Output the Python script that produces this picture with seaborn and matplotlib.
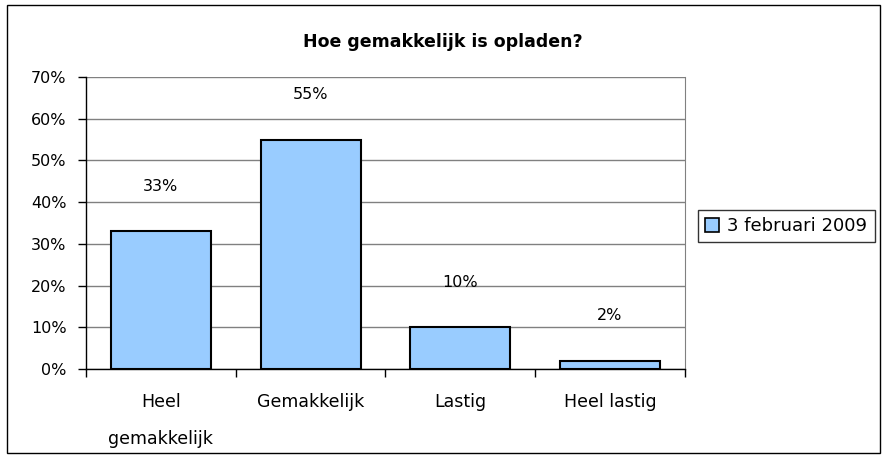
import matplotlib.pyplot as plt
import matplotlib.patches as mpatches
import pandas as pd
import seaborn as sns
from matplotlib.ticker import PercentFormatter

sns.set_style('white')
plt.rcParams['font.family'] = ['DejaVu Sans']
plt.rcParams['text.color'] = 'black'
plt.rcParams['xtick.color'] = 'black'
plt.rcParams['ytick.color'] = 'black'

categories = ['Heel\ngemakkelijk', 'Gemakkelijk', 'Lastig', 'Heel lastig']
values = [33, 55, 10, 2]
series_name = '3 februari 2009'
title = 'Hoe gemakkelijk is opladen?'

df = pd.DataFrame({'Categorie': categories, 'Percentage': values})

bar_color = '#99ccff'

fig = plt.figure(figsize=(8.82, 4.58), dpi=100)
ax = fig.add_axes([0.0975, 0.194, 0.679, 0.638])

sns.barplot(data=df, x='Categorie', y='Percentage', color=bar_color, saturation=1,
            edgecolor='black', linewidth=1.5, width=0.667, ax=ax, zorder=3)

ax.set_ylim(0, 70)
ax.set_yticks(range(0, 71, 10))
ax.yaxis.set_major_formatter(PercentFormatter(decimals=0))
ax.yaxis.grid(True, color='#808080', linewidth=1, zorder=0)
ax.set_xlim(-0.5, len(categories) - 0.5)

for spine in ['left', 'bottom']:
    ax.spines[spine].set_color('black')
    ax.spines[spine].set_linewidth(1)
ax.spines['right'].set_color('#808080')
ax.spines['top'].set_visible(False)

ax.tick_params(axis='y', left=True, length=6, width=1, color='black',
               labelsize=11.5, pad=8)
ax.tick_params(axis='x', bottom=False, labelsize=12.5, pad=14)
ax.set_xticks(range(len(categories)))
ax.set_xticklabels(categories, linespacing=2.3, va='top')
ax.set_xticks([i - 0.5 for i in range(len(categories) + 1)], minor=True)
ax.tick_params(axis='x', which='minor', bottom=True, length=6, width=1, color='black')

ax.set_xlabel('')
ax.set_ylabel('')

for container in ax.containers:
    for bar, v in zip(container, values):
        ax.annotate(f'{v}%', (bar.get_x() + bar.get_width() / 2, bar.get_height()),
                    xytext=(0, 27), textcoords='offset points',
                    ha='center', va='bottom', fontsize=11.5)

fig.text(0.502, 0.908, title, ha='center', va='center', fontsize=12.5, fontweight='bold')

handle = mpatches.Patch(facecolor=bar_color, edgecolor='black', linewidth=1.2, label=series_name)
leg = fig.legend(handles=[handle], loc='upper left', bbox_to_anchor=(0.791, 0.542),
                 fontsize=13, frameon=True, fancybox=False, borderpad=0.4,
                 handlelength=0.8, handleheight=0.8, handletextpad=0.45, borderaxespad=0)
leg.get_frame().set_edgecolor('black')
leg.get_frame().set_linewidth(1)

border = mpatches.Rectangle((0.008, 0.012), 0.99, 0.976, transform=fig.transFigure,
                            fill=False, edgecolor='black', linewidth=1)
fig.patches.append(border)

fig.savefig('out.png', dpi=100)
